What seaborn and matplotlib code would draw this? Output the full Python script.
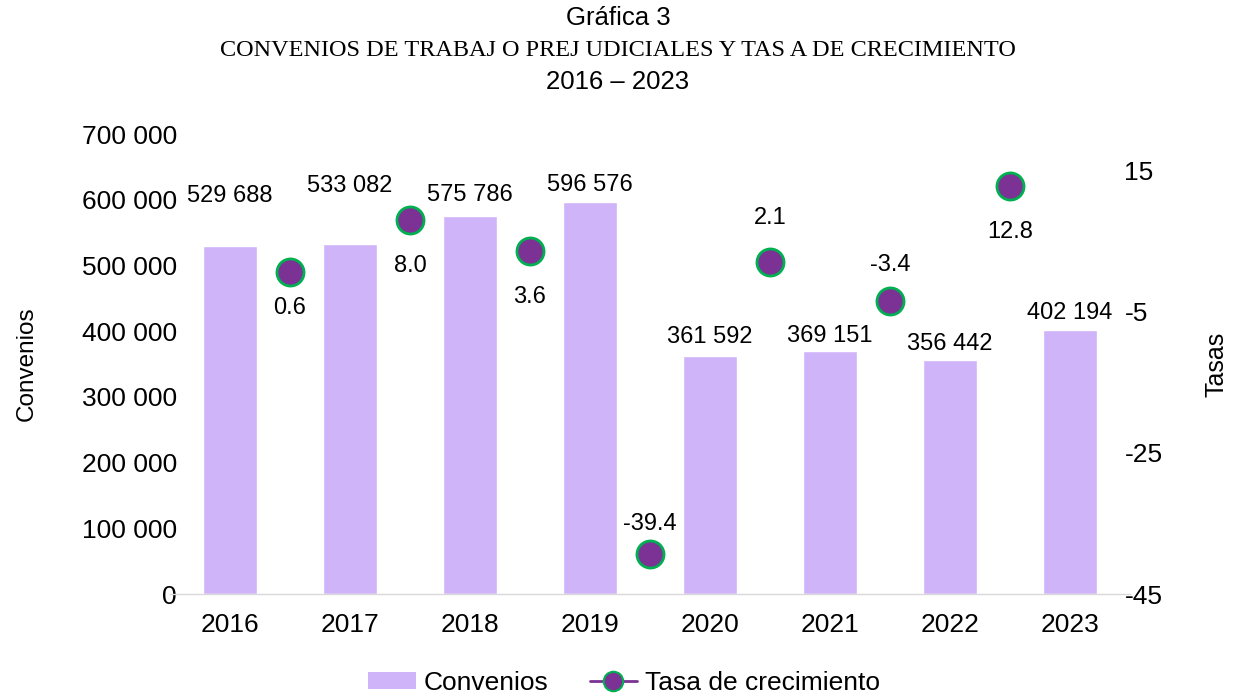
import numpy as np
import pandas as pd
import matplotlib
matplotlib.use("Agg")
import matplotlib.pyplot as plt
from matplotlib.lines import Line2D
from matplotlib.patches import Patch
import seaborn as sns

# ---------------- data ----------------
years = ["2016", "2017", "2018", "2019", "2020", "2021", "2022", "2023"]
convenios = [529688, 533082, 575786, 596576, 361592, 369151, 356442, 402194]
tasas = [0.6, 8.0, 3.6, -39.4, 2.1, -3.4, 12.8]

# label offsets (pixels) as placed in the original chart
bar_label_dy = [50, 58, 21, 17, 19, 15, 16, 17]
rate_label_dy = [-36, -46, -46, 30, 44, 36, -46]

BAR_COLOR = "#D0B4FA"
DOT_COLOR = "#7B3294"
EDGE_COLOR = "#00B050"

sns.set_style("white")
plt.rcParams["font.family"] = ["Liberation Sans", "DejaVu Sans"]
plt.rcParams["axes.unicode_minus"] = False
plt.rcParams["text.color"] = "black"
plt.rcParams["axes.labelcolor"] = "black"
plt.rcParams["xtick.color"] = "black"
plt.rcParams["ytick.color"] = "black"

TICK_FS = 19
LABEL_FS = 17

fig = plt.figure(figsize=(12.36, 6.98), dpi=100)
ax = fig.add_axes([170 / 1236, 1 - 594 / 698, 960 / 1236, 460 / 698])

df = pd.DataFrame({"year": years, "convenios": convenios})
sns.barplot(data=df, x="year", y="convenios", color=BAR_COLOR, width=0.45,
            saturation=1, ax=ax)

ax.set_xlim(-0.5, 7.5)
ax.set_ylim(0, 700000)
ax.set_yticks(np.arange(0, 700001, 100000))
ax.set_yticklabels([f"{int(v):,}".replace(",", " ") for v in np.arange(0, 700001, 100000)])
ax.tick_params(axis="both", length=0, labelsize=TICK_FS)
ax.tick_params(axis="x", pad=14)
ax.tick_params(axis="y", pad=-5)
ax.set_xlabel("")
ax.set_ylabel("Convenios", fontsize=17.5, labelpad=32)
for s in ["top", "right", "left"]:
    ax.spines[s].set_visible(False)
ax.spines["bottom"].set_color("#D9D9D9")
ax.spines["bottom"].set_linewidth(1)

for i, v in enumerate(convenios):
    ax.annotate(f"{v:,}".replace(",", " "), (i, v), xytext=(0, bar_label_dy[i] * 0.72),
                textcoords="offset points", ha="center", va="center", fontsize=LABEL_FS)

# growth rates on secondary axis
ax2 = ax.twinx()
xr = np.arange(len(tasas)) + 0.5
sns.scatterplot(x=xr, y=tasas, ax=ax2, s=380, color=DOT_COLOR,
                edgecolor=EDGE_COLOR, linewidth=2, zorder=5, legend=False)
ax2.set_ylim(-45, 20.2)
ax2.set_yticks([-45, -25, -5, 15])
ax2.tick_params(axis="y", length=0, labelsize=TICK_FS, pad=-4)
ax2.set_ylabel("Tasas", fontsize=18, labelpad=30)
for s in ["top", "right", "left", "bottom"]:
    ax2.spines[s].set_visible(False)
ax2.grid(False)
ax2.set_xlim(-0.5, 7.5)

for x, t, dy in zip(xr, tasas, rate_label_dy):
    ax2.annotate(f"{t:.1f}", (x, t), xytext=(0, dy * 0.72), textcoords="offset points",
                 ha="center", va="center", fontsize=LABEL_FS)

# titles
fig.text(0.5, 1 - 18 / 698, "Gráfica 3", ha="center", va="center", fontsize=18.5)
fig.text(0.5, 1 - 50 / 698, "CONVENIOS DE TRABAJ O PREJ UDICIALES Y TAS A DE CRECIMIENTO",
         ha="center", va="center", fontsize=17.5, family=["Liberation Serif", "DejaVu Serif"])
fig.text(0.5, 1 - 82 / 698, "2016 – 2023", ha="center", va="center", fontsize=18.5)

# legend
handles = [Patch(facecolor=BAR_COLOR, edgecolor="none"),
           Line2D([0], [0], color=DOT_COLOR, lw=2, marker="o", markersize=14,
                  markerfacecolor=DOT_COLOR, markeredgecolor=EDGE_COLOR, markeredgewidth=1.5)]
fig.legend(handles, ["Convenios", "Tasa de crecimiento"], loc="center",
           bbox_to_anchor=(0.505, 1 - 683 / 698), ncol=2, frameon=False, fontsize=19,
           handlelength=1.8, handleheight=0.6, handletextpad=0.3, columnspacing=1.55)

fig.savefig("out.png", dpi=100)
